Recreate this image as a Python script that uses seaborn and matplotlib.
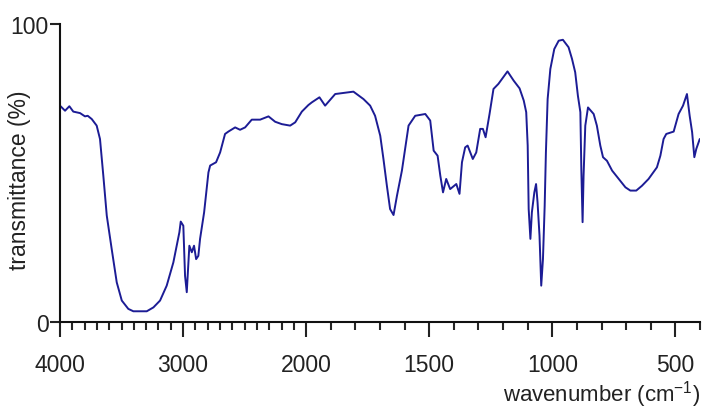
import numpy as np
import pandas as pd
import seaborn as sns
import matplotlib.pyplot as plt
from matplotlib.ticker import FixedLocator, NullFormatter

# IR spectrum
wavenumber = [4000, 3959, 3924, 3892, 3837, 3797, 3775, 3742, 3702, 3675, 3648, 3620,
              3580, 3539, 3498, 3445, 3404, 3295, 3241, 3187, 3133, 3079, 3030, 3019,
              2998, 2984, 2970, 2949, 2929, 2911, 2894, 2876, 2862, 2829, 2794, 2780,
              2732, 2699, 2659, 2632, 2577, 2537, 2496, 2442, 2374, 2306, 2252, 2198,
              2130, 2089, 2035, 1991, 1977, 1946, 1923, 1882, 1808, 1767, 1740, 1720,
              1699, 1686, 1672, 1659, 1645, 1631, 1611, 1598, 1584, 1557, 1516, 1496,
              1482, 1466, 1455, 1444, 1431, 1415, 1390, 1377, 1367, 1354, 1344, 1323,
              1309, 1293, 1282, 1271, 1255, 1239, 1219, 1182, 1157, 1133, 1116, 1106,
              1100, 1096, 1089, 1083, 1073, 1066, 1060, 1052, 1045, 1038, 1031, 1026,
              1019, 1008, 992, 974, 957, 934, 920, 907, 896, 886, 882, 877,
              873, 866, 855, 832, 819, 805, 794, 778, 757, 730, 703, 683,
              659, 636, 609, 575, 561, 548, 537, 507, 487, 469, 453, 442,
              432, 423, 415, 401]
transmittance = [72.6, 70.9, 72.4, 70.6, 70.1, 69.0, 69.2, 68.1, 65.9, 61.4, 49.1, 35.7,
                 24.5, 13.3, 7.2, 4.4, 3.6, 3.6, 4.9, 7.2, 12.2, 20.0, 30.1, 33.7,
                 32.3, 15.5, 10.0, 25.6, 23.4, 25.6, 21.1, 22.2, 27.9, 36.8, 50.2, 52.5,
                 53.6, 56.9, 63.1, 63.9, 65.3, 64.5, 65.3, 67.9, 67.9, 69.0, 67.2, 66.4,
                 65.9, 67.0, 70.6, 72.8, 73.7, 75.4, 72.6, 76.5, 77.3, 74.8, 72.6, 69.2,
                 62.5, 54.7, 45.7, 37.9, 35.9, 42.4, 50.8, 58.1, 65.9, 69.2, 69.8, 67.6,
                 57.5, 55.8, 49.1, 43.5, 48.0, 44.6, 46.3, 43.0, 53.6, 58.6, 59.2, 54.7,
                 56.9, 64.8, 64.8, 62.0, 69.8, 78.2, 79.9, 84.1, 81.0, 78.4, 74.3, 70.4,
                 59.2, 37.9, 27.9, 36.8, 43.5, 46.3, 40.2, 29.0, 12.2, 21.1, 39.0, 56.9,
                 74.8, 84.9, 91.6, 94.4, 94.7, 92.2, 88.3, 83.8, 75.9, 70.4, 50.8, 33.5,
                 49.1, 65.9, 72.0, 69.8, 65.9, 59.2, 55.3, 54.1, 50.8, 48.0, 45.2, 44.1,
                 44.1, 45.7, 48.0, 51.9, 55.8, 61.4, 63.1, 63.9, 69.8, 72.6, 76.5, 69.2,
                 63.7, 55.3, 58.1, 61.4]

major_ticks = [4000, 3000, 2000, 1500, 1000, 500]
minor_ticks = list(range(4000, 399, -100))

df = pd.DataFrame({"wavenumber": wavenumber, "transmittance": transmittance})

sns.set_style("ticks")
plt.rcParams['font.family'] = ['Liberation Sans', 'DejaVu Sans']
plt.rcParams['mathtext.default'] = 'regular'


# scale halves above 2000 cm-1, like the usual IR chart paper
def fwd(w):
    w = np.asarray(w, dtype=float)
    return np.where(w > 2000, 2000 + (w - 2000) / 2, w)


def inv(p):
    p = np.asarray(p, dtype=float)
    return np.where(p > 2000, 2000 + (p - 2000) * 2, p)


fig = plt.figure(figsize=(7.03, 4.10), dpi=100)
ax = fig.add_axes([60 / 703, 87 / 410, 640 / 703, 298 / 410])
ax.set_xscale('function', functions=(fwd, inv))

sns.lineplot(data=df, x="wavenumber", y="transmittance", ax=ax, sort=False,
             estimator=None, color="#1c1c95", linewidth=1.4)

ax.set_xlim(4000, 400)
ax.set_ylim(0, 100)
ax.xaxis.set_major_locator(FixedLocator(major_ticks))
ax.xaxis.set_minor_locator(FixedLocator(minor_ticks))
ax.xaxis.set_minor_formatter(NullFormatter())
ax.set_xticklabels([str(t) for t in major_ticks])
ax.set_yticks([0, 100])
ax.set_yticklabels(["0", "100"])

ax.tick_params(axis='x', which='major', length=11, width=1.5, pad=11, labelsize=16.5, colors='#222222')
ax.tick_params(axis='x', which='minor', length=5.5, width=1.5)
ax.tick_params(axis='y', length=7, width=1.5, pad=1, labelsize=16.5, colors='#222222')

sns.despine(ax=ax)
for s in ['left', 'bottom']:
    ax.spines[s].set_linewidth(1.5)
    ax.spines[s].set_color('#111111')

ax.set_ylabel("transmittance (%)", fontsize=16.5, color='#222222')
ax.yaxis.set_label_coords(-0.045, 0.48)
ax.set_xlabel("wavenumber (cm$^{-1}$)", fontsize=16, color='#222222', loc='right', labelpad=2)

fig.savefig("out.png", dpi=100)
